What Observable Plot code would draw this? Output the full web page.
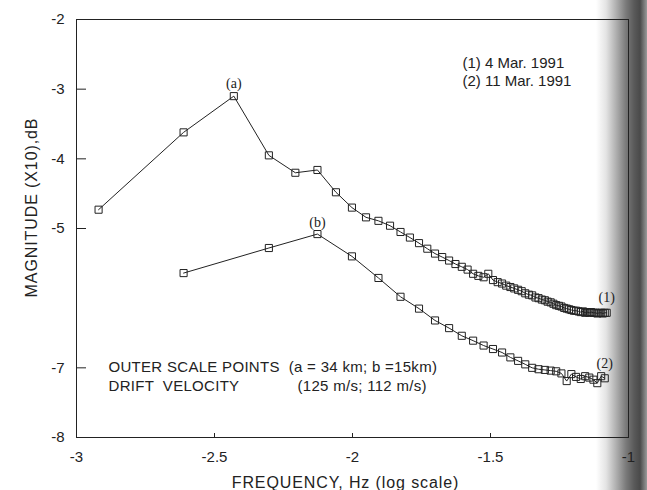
<!DOCTYPE html>
<html>
<head>
<meta charset="utf-8">
<script src="https://cdn.jsdelivr.net/npm/d3@7"></script>
<script src="https://cdn.jsdelivr.net/npm/@observablehq/plot@0.6"></script>
<style>
  html, body { margin: 0; padding: 0; }
  body {
    width: 647px; height: 490px; overflow: hidden;
    background: linear-gradient(to right, #fff 0px, #fff 596px, #e4e4e4 606px, #b0b0b0 616px, #7a7a7a 626px, #5a5a5a 634px, #4a4a4a 640px, #9a9a9a 647px);
  }
  #chart { width: 647px; height: 490px; }
</style>
</head>
<body>
<div id="chart"></div>
<script>
// Series (1): 4 Mar. 1991 — log10 frequency and magnitude (X10 dB)
const freq1 = [-2.920, -2.612, -2.430, -2.303, -2.207, -2.127, -2.060, -2.002, -1.951, -1.906,
  -1.864, -1.826, -1.792, -1.759, -1.729, -1.701, -1.675, -1.650, -1.627, -1.604,
  -1.583, -1.563, -1.544, -1.525, -1.508, -1.491, -1.474, -1.458, -1.443, -1.428,
  -1.414, -1.400, -1.387, -1.374, -1.361, -1.349, -1.337, -1.326, -1.314, -1.303,
  -1.293, -1.282, -1.272, -1.262, -1.252, -1.243, -1.233, -1.224, -1.215, -1.207,
  -1.198, -1.190, -1.181, -1.173, -1.165, -1.157, -1.150, -1.142, -1.135, -1.127,
  -1.120, -1.113, -1.106, -1.099, -1.093, -1.086, -1.079];
const mag1 = [-4.73, -3.62, -3.10, -3.95, -4.20, -4.16, -4.48, -4.70, -4.84, -4.89,
  -4.96, -5.05, -5.13, -5.21, -5.29, -5.36, -5.41, -5.46, -5.51, -5.55,
  -5.59, -5.65, -5.68, -5.70, -5.65, -5.74, -5.77, -5.79, -5.82, -5.84,
  -5.86, -5.88, -5.90, -5.93, -5.95, -5.96, -5.99, -6.00, -6.02, -6.03,
  -6.05, -6.06, -6.08, -6.10, -6.11, -6.12, -6.14, -6.15, -6.16, -6.17,
  -6.18, -6.18, -6.19, -6.20, -6.19, -6.21, -6.20, -6.21, -6.20, -6.21,
  -6.21, -6.22, -6.21, -6.21, -6.22, -6.21, -6.21];

// Series (2): 11 Mar. 1991
const freq2 = [-2.612, -2.303, -2.127, -2.002, -1.906, -1.826, -1.759, -1.701, -1.650, -1.604,
  -1.563, -1.525, -1.491, -1.458, -1.428, -1.400, -1.374, -1.349, -1.326, -1.303,
  -1.282, -1.262, -1.243, -1.224, -1.207, -1.190, -1.173, -1.157, -1.142, -1.127,
  -1.113, -1.099, -1.086];
const mag2 = [-5.64, -5.28, -5.08, -5.40, -5.71, -5.98, -6.15, -6.32, -6.43, -6.54,
  -6.61, -6.68, -6.73, -6.78, -6.85, -6.90, -6.95, -7.00, -7.02, -7.03,
  -7.04, -7.05, -7.08, -7.19, -7.09, -7.13, -7.16, -7.12, -7.14, -7.17,
  -7.22, -7.12, -7.15];

// Axis ticks and labels
const xTicks = [-3, -2.5, -2, -1.5, -1];
const yTicks = [-2, -3, -4, -5, -7, -8];
const xTitle = "FREQUENCY, Hz (log scale)";
const yTitle = "MAGNITUDE (X10),dB";
const legendLines = ["(1) 4 Mar. 1991", "(2) 11 Mar. 1991"];
const noteLine1 = "OUTER SCALE POINTS  (a = 34 km; b =15km)";
const noteLine2a = "DRIFT  VELOCITY";
const noteLine2b = "(125 m/s; 112 m/s)";

const d1 = freq1.map((f, i) => ({f, m: mag1[i]}));
const d2 = freq2.map((f, i) => ({f, m: mag2[i]}));
const peak1 = d1.reduce((a, b) => (b.m > a.m ? b : a));
const peak2 = d2.reduce((a, b) => (b.m > a.m ? b : a));
const last1 = d1[d1.length - 1];
const last2 = d2[d2.length - 1];

const W = 647, H = 490, ML = 76, MR = 19, MT = 19, MB = 53;
const plotW = W - ML - MR, plotH = H - MT - MB;
const ink = "#222";
const sans = "Liberation Sans, Arial, sans-serif";
const serif = "Liberation Serif, Times New Roman, serif";
const note = {textAnchor: "start", lineAnchor: "middle", fontSize: 15, fill: ink};

const chart = Plot.plot({
  width: W,
  height: H,
  marginLeft: ML,
  marginRight: MR,
  marginTop: MT,
  marginBottom: MB,
  style: {background: "transparent", fontFamily: sans, fontSize: "15px", color: ink},
  x: {domain: [-3, -1]},
  y: {domain: [-8, -2]},
  marks: [
    Plot.frame({stroke: ink, strokeWidth: 1}),
    Plot.axisY({ticks: yTicks, tickSize: 0, tickPadding: 12, fontSize: 15, label: null, tickFormat: d => String(d)}),
    Plot.tickY(yTicks, {y: d => d, stroke: ink, strokeWidth: 1, insetRight: plotW - 10}),
    Plot.axisX({ticks: xTicks, tickSize: 0, tickPadding: 14, fontSize: 15, label: null, tickFormat: d => String(d)}),
    Plot.tickX(xTicks, {x: d => d, stroke: ink, strokeWidth: 1, insetTop: plotH - 4}),
    Plot.line(d1, {x: "f", y: "m", stroke: ink, strokeWidth: 1}),
    Plot.dot(d1, {x: "f", y: "m", symbol: "square", r: 4, stroke: ink, fill: "none", strokeWidth: 1}),
    Plot.line(d2, {x: "f", y: "m", stroke: ink, strokeWidth: 1}),
    Plot.dot(d2, {x: "f", y: "m", symbol: "square", r: 4, stroke: ink, fill: "none", strokeWidth: 1}),
    Plot.text([peak1], {x: "f", y: "m", text: () => "(a)", dy: -13, fontFamily: serif, fontSize: 14, fill: ink}),
    Plot.text([peak2], {x: "f", y: "m", text: () => "(b)", dy: -12, fontFamily: serif, fontSize: 14, fill: ink}),
    Plot.text([last1], {x: "f", y: "m", text: () => "(1)", dy: -15, fontFamily: serif, fontSize: 14, fill: ink}),
    Plot.text([last2], {x: "f", y: "m", text: () => "(2)", dy: -15, fontFamily: serif, fontSize: 14, fill: ink}),
    Plot.text([legendLines[0]], {...note, frameAnchor: "top-left", dx: 386, dy: 44}),
    Plot.text([legendLines[1]], {...note, frameAnchor: "top-left", dx: 386, dy: 62}),
    Plot.text([noteLine1], {...note, frameAnchor: "bottom-left", dx: 32, dy: -70}),
    Plot.text([noteLine2a], {...note, frameAnchor: "bottom-left", dx: 32, dy: -51}),
    Plot.text([noteLine2b], {...note, frameAnchor: "bottom-left", dx: 221, dy: -51}),
    Plot.text([xTitle], {frameAnchor: "bottom", textAnchor: "middle", lineAnchor: "middle", dx: -7, dy: 45, fontSize: 16, fill: ink}),
    Plot.text([yTitle], {frameAnchor: "left", textAnchor: "middle", lineAnchor: "middle", dx: -45, dy: -21, rotate: -90, fontSize: 16, fill: ink})
  ]
});

// slightly wider lettering, as in the scanned original
chart.querySelectorAll("text").forEach(t => {
  const s = t.textContent;
  if (s === xTitle || s === yTitle) t.style.letterSpacing = "0.9px";
  else if (s.startsWith("OUTER") || s.startsWith("DRIFT") || s.startsWith("(125")) t.style.letterSpacing = "0.3px";
});
document.getElementById("chart").appendChild(chart);
</script>
</body>
</html>
